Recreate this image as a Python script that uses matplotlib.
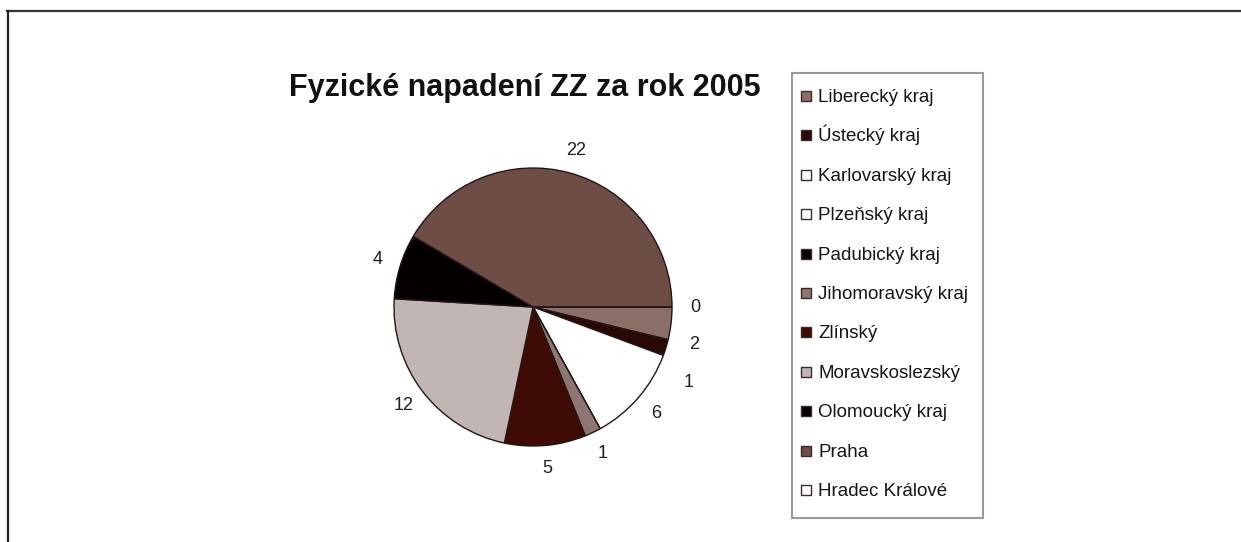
import matplotlib
matplotlib.use("Agg")
import matplotlib.pyplot as plt
import numpy as np
from matplotlib.lines import Line2D
from matplotlib.patches import Rectangle

plt.rcParams['font.family'] = ['Liberation Sans', 'DejaVu Sans']

# data - Fyzické napadení ZZ, 2005 (None = bez údaje)
regions = ['Liberecký kraj', 'Ústecký kraj', 'Karlovarský kraj', 'Plzeňský kraj',
           'Padubický kraj', 'Jihomoravský kraj', 'Zlínský', 'Moravskoslezský',
           'Olomoucký kraj', 'Praha', 'Hradec Králové']
counts = [2, 1, 6, None, None, 1, 5, 12, 4, 22, 0]
colors = ['#8a6f69', '#2a0806', '#ffffff', '#ffffff', '#080000', '#8e7672',
          '#3e0b05', '#c2b6b4', '#050000', '#6d4d45', '#ffffff']

W, H = 1241, 542
fig = plt.figure(figsize=(W / 100, H / 100), dpi=100, facecolor='white')

# pie area
cx, cy, r = 533, 307, 139
ax = fig.add_axes([(cx - r) / W, (H - cy - r) / H, 2 * r / W, 2 * r / H])
vals = [0 if v is None else v for v in counts]
wedges, _ = ax.pie(vals, colors=colors, startangle=0, counterclock=False,
                   wedgeprops=dict(edgecolor='#241614', linewidth=1.0))
ax.set_xlim(-1, 1)
ax.set_ylim(-1, 1)
ax.set_aspect('equal')
ax.axis('off')

# value labels at slice mid-angles
labels = []
for w, v in zip(wedges, counts):
    if v is None:
        continue
    ang = np.deg2rad((w.theta1 + w.theta2) / 2)
    labels.append([1.17 * np.cos(ang), 1.17 * np.sin(ang), str(v)])

# right-side labels pushed apart top to bottom so they don't overlap
right = sorted([l for l in labels if l[0] > 0.9], key=lambda l: -l[1])
for a, b in zip(right, right[1:]):
    b[1] = min(b[1], a[1] - 0.27)

for x, y, s in labels:
    ax.text(x, y, s, ha='center', va='center', fontsize=13, color='#1e1e1e')

fig.text(525 / W, 1 - 88 / H, 'Fyzické napadení ZZ za rok 2005', ha='center', va='center',
         fontsize=22, fontweight='bold', color='#111111')

# legend box drawn entry by entry so rows stay evenly spaced
lx0, ly0, lx1, ly1 = 792, 73, 983, 518
fig.add_artist(Rectangle((lx0 / W, 1 - ly1 / H), (lx1 - lx0) / W, (ly1 - ly0) / H,
                         transform=fig.transFigure, facecolor='white',
                         edgecolor='#9a9a9a', linewidth=1.5))
row0, step, sq = 96, 39.4, 10
for i, (name, c) in enumerate(zip(regions, colors)):
    yc = row0 + i * step
    fig.add_artist(Rectangle((801 / W, 1 - (yc + sq / 2) / H), sq / W, sq / H,
                             transform=fig.transFigure, facecolor=c,
                             edgecolor='#3a2a28', linewidth=1.0))
    fig.text(818 / W, 1 - (yc + 6) / H, name, ha='left', va='baseline',
             fontsize=13.5, color='#151515')

# outer frame (top and left edges)
fig.add_artist(Line2D([7 / W, 1], [1 - 11 / H, 1 - 11 / H], color='#333333', linewidth=1.6))
fig.add_artist(Line2D([7.5 / W, 7.5 / W], [0, 1 - 11 / H], color='#222222', linewidth=1.6))

fig.savefig('out.png', dpi=100, facecolor='white')
